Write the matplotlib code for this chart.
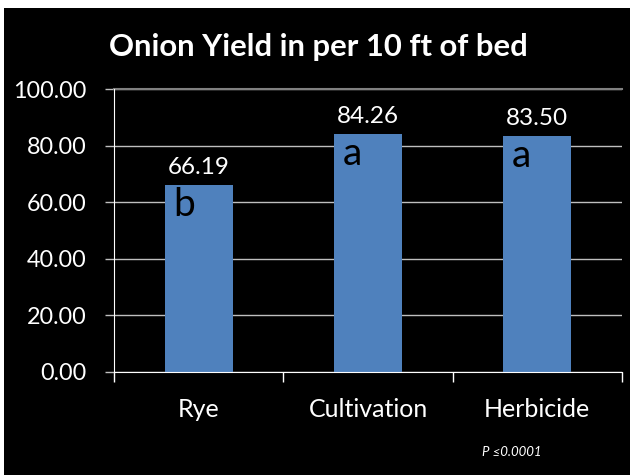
import matplotlib.pyplot as plt
from matplotlib.patches import Rectangle

treatments = ['Rye', 'Cultivation', 'Herbicide']
yield_vals = [66.19, 84.26, 83.50]
letters = ['b', 'a', 'a']

plt.rcParams['font.family'] = ['Lato', 'DejaVu Sans']

fig = plt.figure(figsize=(6.3, 4.75), dpi=100, facecolor='white')
# black slide background, thin white strip on top and left
fig.patches.append(Rectangle((4 / 630, 0), 1, (475 - 8) / 475, transform=fig.transFigure,
                             facecolor='black', edgecolor='none', zorder=-5))

ax = fig.add_axes([114 / 630, (475 - 372) / 475, (622 - 114) / 630, (372 - 89) / 475])
ax.set_facecolor('black')

x = range(len(treatments))
bars = ax.bar(x, yield_vals, width=0.4, color='#4F81BD', zorder=3)

for b, v, let in zip(bars, yield_vals, letters):
    ax.annotate(f'{v:.2f}', (b.get_x() + b.get_width() / 2, v), xytext=(0, 5),
                textcoords='offset points', ha='center', va='bottom', color='white', fontsize=17.5)
    ax.annotate(let, (b.get_x(), v), xytext=(6, -2), textcoords='offset points',
                ha='left', va='top', color='black', fontsize=28, zorder=5)

ax.set_xlim(-0.5, 2.5)
ax.set_ylim(0, 100)
ax.set_yticks(range(0, 101, 20))
ax.set_yticklabels([f'{t:.2f}' for t in range(0, 101, 20)])
ax.set_xticks(x)
ax.set_xticklabels(treatments)
ax.set_xticks([-0.5, 0.5, 1.5, 2.5], minor=True)

ax.grid(axis='y', color='#bfbfbf', linewidth=1, zorder=1)
ax.tick_params(axis='y', colors='#bfbfbf', labelsize=16.8, length=6.5, width=1, direction='out', pad=13)
ax.tick_params(axis='y', labelcolor='white')
ax.tick_params(axis='x', which='major', length=0, labelsize=18, labelcolor='white', pad=19)
ax.tick_params(axis='x', which='minor', length=7, color='white', width=1)

ax.spines['left'].set_color('white')
ax.spines['bottom'].set_color('white')
ax.spines['top'].set_color('#808080')
ax.spines['top'].set_linewidth(1.5)
ax.spines['right'].set_visible(False)
ax.spines['left'].set_zorder(4)
ax.spines['bottom'].set_zorder(4)

fig.text(318 / 630, 1 - 47 / 475, 'Onion Yield in per 10 ft of bed', ha='center', va='center',
         color='white', fontsize=22.3, fontweight='bold')
fig.text(482 / 630, 1 - 452 / 475, 'P \u22640.0001', ha='left', va='center',
         color='white', fontsize=9.5, style='italic')

fig.savefig('out.png', dpi=100, facecolor=fig.get_facecolor())
